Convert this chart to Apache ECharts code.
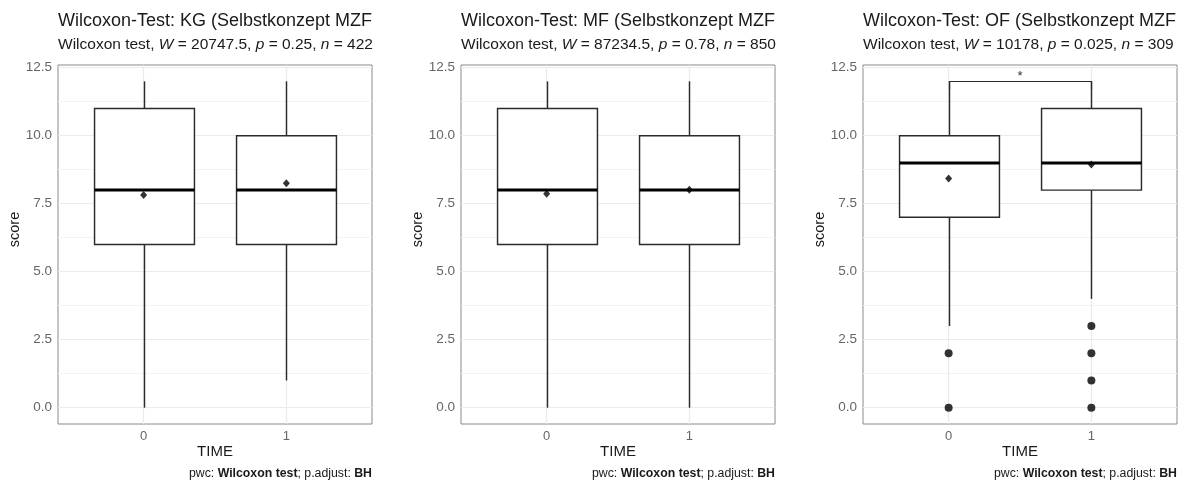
<!DOCTYPE html>
<html>
<head>
<meta charset="utf-8">
<script src="https://cdn.jsdelivr.net/npm/echarts@6/dist/echarts.min.js"></script>
<style>
html,body{margin:0;padding:0;background:#fff;}
#chart{width:1191px;height:482px;}
</style>
</head>
<body>
<div id="chart"></div>
<script>
// ---------- data ----------
const panelNames = ['KG', 'MF', 'OF'];
const categories = ['0', '1'];
const wStat = ['20747.5', '87234.5', '10178'];
const pStat = ['0.25', '0.78', '0.025'];
const nStat = ['422', '850', '309'];
// box stats per panel: [x, lowerWhisker, Q1, median, Q3, upperWhisker]
const boxKG = [[0, 0, 6, 8, 11, 12], [1, 1, 6, 8, 10, 12]];
const boxMF = [[0, 0, 6, 8, 11, 12], [1, 0, 6, 8, 10, 12]];
const boxOF = [[0, 3, 7, 9, 10, 12], [1, 4, 8, 9, 11, 12]];
const meanKG = [[0, 7.82], [1, 8.25]];
const meanMF = [[0, 7.87], [1, 8.01]];
const meanOF = [[0, 8.43], [1, 8.94]];
const outKG = [];
const outMF = [];
const outOF = [[0, 2], [0, 0], [1, 3], [1, 2], [1, 1], [1, 0]];
const bracketOF = [[0, 1, 12, '*']];
const yMajorTicks = [0, 2.5, 5, 7.5, 10, 12.5];
const yMinorTicks = [1.25, 3.75, 6.25, 8.75, 11.25];
const xTicks = [0, 1];

// ---------- layout ----------
const boxes = [boxKG, boxMF, boxOF];
const means = [meanKG, meanMF, meanOF];
const outs = [outKG, outMF, outOF];
const brackets = [[], [], bracketOF];
const gridLefts = [58, 461, 863];
const gridW = 314, gridTop = 65, gridH = 359;
const FONT = '"Liberation Sans", Arial, Helvetica, sans-serif';
const boxWidth = 0.7;

const chart = echarts.init(document.getElementById('chart'), null, {renderer: 'canvas'});

const grids = [], xAxes = [], yAxes = [], series = [], graphics = [];

panelNames.forEach((name, i) => {
  const L = gridLefts[i];
  grids.push({left: L, top: gridTop, width: gridW, height: gridH, show: true,
    borderColor: '#8a8a8a', borderWidth: 1, backgroundColor: '#fff', containLabel: false});
  xAxes.push({type: 'value', gridIndex: i, min: -0.6, max: 1.6,
    axisLine: {show: false},
    axisTick: {show: true, length: 4, lineStyle: {color: '#555'}, customValues: xTicks},
    axisLabel: {show: true, customValues: xTicks, color: '#666', fontSize: 13, fontFamily: FONT, margin: 6,
      formatter: v => categories[Math.round(v)]},
    splitLine: {show: false}});
  yAxes.push({type: 'value', gridIndex: i, min: -0.6, max: 12.6,
    axisLine: {show: false},
    axisTick: {show: true, length: 4, lineStyle: {color: '#555'}, customValues: yMajorTicks},
    axisLabel: {show: true, customValues: yMajorTicks, color: '#666', fontSize: 13.5, fontFamily: FONT, margin: 6,
      formatter: v => v.toFixed(1)},
    splitLine: {show: false}});

  // grid lines
  const ml = [];
  yMinorTicks.forEach(v => ml.push({yAxis: v, lineStyle: {color: '#f3f3f3', width: 1}}));
  yMajorTicks.forEach(v => ml.push({yAxis: v, lineStyle: {color: '#ebebeb', width: 1.2}}));
  xTicks.forEach(v => ml.push({xAxis: v, lineStyle: {color: '#ebebeb', width: 1.2}}));
  series.push({type: 'scatter', xAxisIndex: i, yAxisIndex: i, data: [], silent: true, z: 1,
    markLine: {z: 1, silent: true, symbol: 'none', label: {show: false}, animation: false,
      lineStyle: {type: 'solid'}, data: ml}});

  // boxes
  series.push({type: 'custom', xAxisIndex: i, yAxisIndex: i, z: 6, data: boxes[i],
    encode: {x: 0, y: [1, 2, 3, 4, 5]},
    renderItem: (params, api) => {
      const x = api.value(0);
      const lo = api.coord([x, api.value(1)]);
      const q1 = api.coord([x, api.value(2)]);
      const md = api.coord([x, api.value(3)]);
      const q3 = api.coord([x, api.value(4)]);
      const hi = api.coord([x, api.value(5)]);
      const hw = api.size([boxWidth, 0])[0] / 2;
      const cx = Math.round(lo[0]) + 0.5;
      const stroke = {stroke: '#2b2b2b', lineWidth: 1.45, fill: null};
      return {type: 'group', children: [
        {type: 'line', shape: {x1: cx, y1: q3[1], x2: cx, y2: hi[1]}, style: stroke},
        {type: 'line', shape: {x1: cx, y1: lo[1], x2: cx, y2: q1[1]}, style: stroke},
        {type: 'rect', shape: {x: cx - hw, y: q3[1], width: 2 * hw, height: q1[1] - q3[1]},
          style: {stroke: '#2b2b2b', lineWidth: 1.45, fill: '#fff'}},
        {type: 'line', shape: {x1: cx - hw, y1: md[1], x2: cx + hw, y2: md[1]},
          style: {stroke: '#000', lineWidth: 3}}
      ]};
    }});

  // outliers
  series.push({type: 'scatter', xAxisIndex: i, yAxisIndex: i, z: 7, data: outs[i],
    symbol: 'circle', symbolSize: 8, itemStyle: {color: '#000'}, silent: true});
  // means
  series.push({type: 'scatter', xAxisIndex: i, yAxisIndex: i, z: 8, data: means[i],
    symbol: 'diamond', symbolSize: [7, 8], itemStyle: {color: '#000'}, silent: true});
  // significance bracket
  if (brackets[i].length) {
    series.push({type: 'custom', xAxisIndex: i, yAxisIndex: i, z: 9, data: brackets[i],
      renderItem: (params, api) => {
        const a = api.coord([api.value(0), api.value(2)]);
        const b = api.coord([api.value(1), api.value(2)]);
        const tip = api.size([0, 0.3])[1];
        const ya = Math.round(a[1]) + 0.5;
        const st = {stroke: '#2b2b2b', lineWidth: 1.2, fill: null};
        return {type: 'group', children: [
          {type: 'polyline', shape: {points: [[Math.round(a[0]) + 0.5, ya + tip], [Math.round(a[0]) + 0.5, ya],
            [Math.round(b[0]) + 0.5, ya], [Math.round(b[0]) + 0.5, ya + tip]]}, style: st},
          {type: 'text', x: (a[0] + b[0]) / 2, y: ya + 1,
            style: {text: String(brackets[i][params.dataIndex][3]), fill: '#333', font: '13px ' + FONT,
              textAlign: 'center', textVerticalAlign: 'bottom'}}
        ]};
      }});
  }

  // texts
  graphics.push({type: 'text', left: L, top: 12, style: {
    text: 'Wilcoxon-Test: ' + name + ' (Selbstkonzept MZF', fill: '#1a1a1a', font: '18px ' + FONT}});
  graphics.push({type: 'text', left: L, top: 37, style: {
    text: 'Wilcoxon test, {i|W} = ' + wStat[i] + ', {i|p} = ' + pStat[i] + ', {i|n} = ' + nStat[i],
    fill: '#1a1a1a', font: '15.5px ' + FONT,
    rich: {i: {fontStyle: 'italic', fontSize: 15.5, fontFamily: FONT, fill: '#1a1a1a'}}}});
  graphics.push({type: 'text', x: L - 43, y: gridTop + gridH / 2 - 15, rotation: Math.PI / 2,
    style: {text: 'score', fill: '#1a1a1a', font: '14.5px ' + FONT, textAlign: 'center', textVerticalAlign: 'middle'}});
  graphics.push({type: 'text', x: L + gridW / 2, y: 452, style: {
    text: 'TIME', fill: '#1a1a1a', font: '15px ' + FONT, textAlign: 'center', textVerticalAlign: 'middle'}});
  graphics.push({type: 'text', x: L + gridW, y: 474, style: {
    text: '{n|pwc: }{b|Wilcoxon test}{n|; p.adjust: }{b|BH}', textAlign: 'right', textVerticalAlign: 'middle',
    fill: '#1a1a1a', font: '12.3px ' + FONT,
    rich: {n: {fontSize: 12.3, fontFamily: FONT, fill: '#1a1a1a'},
           b: {fontSize: 12.3, fontFamily: FONT, fontWeight: 'bold', fill: '#1a1a1a'}}}});
});

chart.setOption({
  animation: false,
  backgroundColor: '#fff',
  grid: grids,
  xAxis: xAxes,
  yAxis: yAxes,
  series: series,
  graphic: {elements: graphics}
});
</script>
</body>
</html>
